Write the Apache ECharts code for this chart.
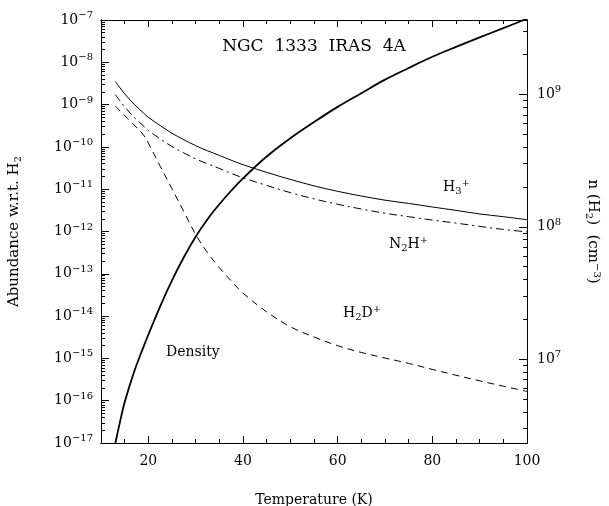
<!DOCTYPE html>
<html>
<head>
<meta charset="utf-8">
<script src="https://cdn.jsdelivr.net/npm/echarts@6/dist/echarts.min.js"></script>
<style>
html, body { margin: 0; padding: 0; background: #fff; }
#myChart { width: 609px; height: 506px; }
</style>
</head>
<body>
<div id="myChart"></div>
<script>
// temperature (K)
var temps = [13, 14, 15, 17, 19, 20, 22.5, 25, 27.5, 30, 32.5, 35, 37.5, 40, 45, 50, 55, 60, 65, 70, 75, 80, 85, 90, 95, 100];
// abundances w.r.t. H2 (left axis)
var h3p = [3.55e-9, 2.5e-9, 1.8e-9, 1.02e-9, 6.3e-10, 5.0e-10, 3.2e-10, 2.1e-10, 1.48e-10, 1.07e-10, 8.1e-11, 6.3e-11, 4.84e-11,
  3.8e-11, 2.5e-11, 1.7e-11, 1.2e-11, 8.9e-12, 6.9e-12, 5.5e-12, 4.6e-12, 3.8e-12, 3.16e-12, 2.6e-12, 2.24e-12, 1.9e-12];
var n2hp = [1.74e-9, 1.23e-9, 8.9e-10, 5.0e-10, 3.1e-10, 2.45e-10, 1.55e-10, 1.02e-10, 7.2e-11, 5.2e-11, 3.98e-11, 3.1e-11, 2.37e-11,
  1.86e-11, 1.23e-11, 8.3e-12, 5.9e-12, 4.4e-12, 3.4e-12, 2.7e-12, 2.24e-12, 1.86e-12, 1.58e-12, 1.32e-12, 1.12e-12, 9.8e-13];
var h2dp = [9.3e-10, 7.1e-10, 5.5e-10, 3.3e-10, 1.9e-10, 1.23e-10, 3.5e-11, 1.02e-11, 2.95e-12, 8.5e-13, 3.16e-13, 1.4e-13, 6.8e-14,
  3.5e-14, 1.26e-14, 5.6e-15, 3.2e-15, 2.0e-15, 1.38e-15, 1.02e-15, 7.6e-16, 5.5e-16, 4.0e-16, 2.95e-16, 2.2e-16, 1.66e-16];
// n(H2) in cm^-3 (right axis)
var density = [2.29e6, 3.35e6, 4.73e6, 8.04e6, 1.245e7, 1.53e7, 2.51e7, 3.94e7, 5.89e7, 8.41e7, 1.14e8, 1.48e8, 1.87e8,
  2.32e8, 3.39e8, 4.66e8, 6.17e8, 8.04e8, 1.02e9, 1.29e9, 1.58e9, 1.92e9, 2.28e9, 2.69e9, 3.16e9, 3.72e9];

// ticks
var xLabels = [20, 40, 60, 80, 100];
var xMinor = [15, 25, 30, 35, 45, 50, 55, 65, 70, 75, 85, 90, 95];
var leftLabels = [1e-17, 1e-16, 1e-15, 1e-14, 1e-13, 1e-12, 1e-11, 1e-10, 1e-9, 1e-8, 1e-7];
var rightLabels = [1e7, 1e8, 1e9];

var leftMin = 1e-17, leftMax = 1e-7;
var rightMin = 2.33e6, rightMax = 3.64e9;

function minorLog(lo, hi) {
  var out = [];
  for (var e = -20; e <= 12; e++) {
    for (var k = 2; k <= 9; k++) {
      var v = Number((k * Math.pow(10, e)).toPrecision(3));
      if (v > lo && v < hi) out.push(v);
    }
  }
  return out;
}

function pairs(arr) {
  return temps.map(function (t, i) { return [t, arr[i]]; });
}

var serif = 'DejaVu Serif';
var ink = '#000';

function powLabel(v) {
  var e = Math.round(Math.log10(v));
  var s = e < 0 ? '\u2212' + (-e) : String(e);
  return '{b|10}{s|' + s + '}';
}
var powRich = {
  b: { fontFamily: serif, fontSize: 14, color: ink },
  s: { fontFamily: serif, fontSize: 10, color: ink, padding: [0, 0, 9, 0] }
};
var nameRich = {
  sub: { fontFamily: serif, fontSize: 10, color: ink, padding: [8, 0, 0, 0] },
  sup: { fontFamily: serif, fontSize: 10, color: ink, padding: [0, 0, 8, 0] }
};

var line = { show: true, lineStyle: { color: ink, width: 1 } };

function xAx(pos, ticks, len, labels) {
  return {
    type: 'value', position: pos, min: 10, max: 100,
    axisLine: line,
    splitLine: { show: false },
    axisTick: { show: true, inside: true, length: len, customValues: ticks, lineStyle: { color: ink } },
    axisLabel: labels ? { show: true, customValues: xLabels, margin: 11, fontFamily: serif, fontSize: 14, color: ink } : { show: false }
  };
}

function yAx(pos, lo, hi, ticks, len, labels, margin) {
  return {
    type: 'log', logBase: 10, position: pos, min: lo, max: hi,
    axisLine: line,
    splitLine: { show: false },
    axisTick: { show: true, inside: true, length: len, customValues: ticks, lineStyle: { color: ink } },
    axisLabel: labels ? { show: true, customValues: labels, formatter: powLabel, rich: powRich, margin: margin } : { show: false }
  };
}

var xBottom = xAx('bottom', xLabels, 7, true);
xBottom.name = 'Temperature (K)';
xBottom.nameLocation = 'middle';
xBottom.nameGap = 50;
xBottom.nameTextStyle = { fontFamily: serif, fontSize: 14, color: ink };

var yLeft = yAx('left', leftMin, leftMax, leftLabels, 8, leftLabels, 8);
yLeft.name = 'Abundance w.r.t. H{sub|2}';
yLeft.nameLocation = 'middle';
yLeft.nameRotate = 90;
yLeft.nameGap = 78;
yLeft.nameTextStyle = { fontFamily: serif, fontSize: 15, color: ink, rich: nameRich };

var yRight = yAx('right', rightMin, rightMax, rightLabels, 8, rightLabels, 10);
yRight.name = 'n (H{sub|2})  (cm{sup|\u22123})';
yRight.nameLocation = 'middle';
yRight.nameRotate = -90;
yRight.nameGap = 57;
yRight.nameTextStyle = { fontFamily: serif, fontSize: 15, color: ink, rich: nameRich };

var curve = { type: 'line', xAxisIndex: 0, showSymbol: false, smooth: 0.35 };

var myChart = echarts.init(document.getElementById('myChart'));
myChart.setOption({
  animation: false,
  backgroundColor: '#fff',
  grid: { left: 101, right: 82, top: 20, bottom: 63, outerBoundsMode: 'none' },
  xAxis: [
    xBottom,
    xAx('bottom', xMinor, 4, false),
    xAx('top', xLabels, 7, false),
    xAx('top', xMinor, 4, false)
  ],
  yAxis: [
    yLeft,
    yAx('left', leftMin, leftMax, minorLog(leftMin, leftMax), 4, null),
    yRight,
    yAx('right', rightMin, rightMax, minorLog(rightMin, rightMax), 4, null)
  ],
  series: [
    Object.assign({ name: 'H3+', data: pairs(h3p), yAxisIndex: 0, lineStyle: { color: ink, width: 1 } }, curve),
    Object.assign({ name: 'N2H+', data: pairs(n2hp), yAxisIndex: 0, lineStyle: { color: ink, width: 1, type: [8, 4, 2, 4] } }, curve),
    Object.assign({ name: 'H2D+', data: pairs(h2dp), yAxisIndex: 0, lineStyle: { color: ink, width: 1, type: [7, 5] } }, curve),
    Object.assign({ name: 'Density', data: pairs(density), yAxisIndex: 2, lineStyle: { color: ink, width: 1.8 } }, curve)
  ],
  graphic: [
    { type: 'text', x: 314, y: 47, style: { text: 'NGC  1333  IRAS  4A', fontFamily: serif, fontSize: 17, fill: ink, align: 'center', verticalAlign: 'middle' } },
    { type: 'text', x: 443, y: 187, style: { text: 'H{sub|3}{sup|+}', fontFamily: serif, fontSize: 14, fill: ink, verticalAlign: 'middle', rich: nameRich } },
    { type: 'text', x: 389, y: 244, style: { text: 'N{sub|2}H{sup|+}', fontFamily: serif, fontSize: 14, fill: ink, verticalAlign: 'middle', rich: nameRich } },
    { type: 'text', x: 343, y: 313, style: { text: 'H{sub|2}D{sup|+}', fontFamily: serif, fontSize: 14, fill: ink, verticalAlign: 'middle', rich: nameRich } },
    { type: 'text', x: 166, y: 352, style: { text: 'Density', fontFamily: serif, fontSize: 14, fill: ink, verticalAlign: 'middle' } }
  ]
});
</script>
</body>
</html>
